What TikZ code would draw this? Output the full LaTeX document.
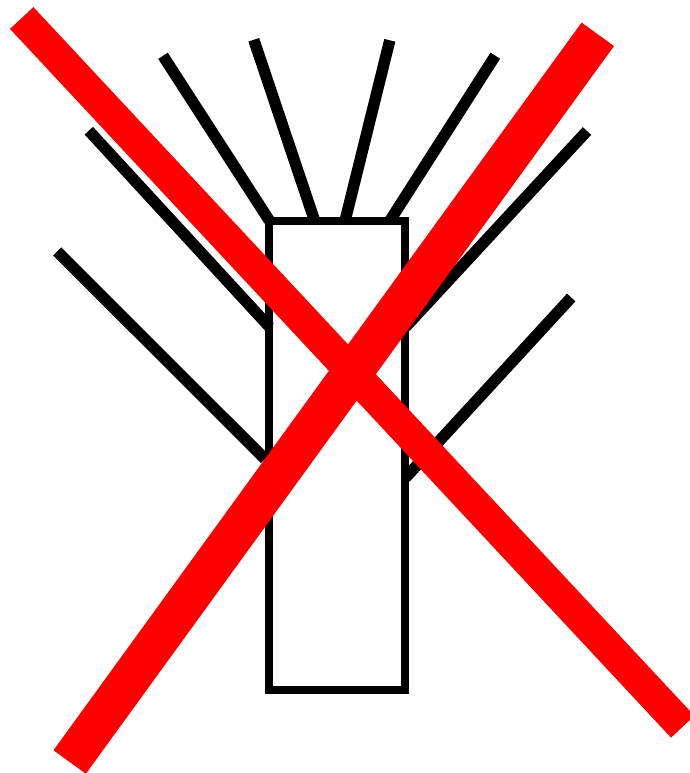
\documentclass[tikz,border=0pt]{standalone}
\begin{document}
\begin{tikzpicture}[x=1pt,y=-1pt,
  blk/.style={draw=black,line width=11.4pt,line cap=butt},
  slashA/.style={draw=red,line width=32pt,line cap=butt},
  slashB/.style={draw=red,line width=40pt,line cap=butt}]
\useasboundingbox (0,0) rectangle (690,773);
\clip (0,0) rectangle (690,773);
\coordinate (a1) at (269.3,220.5); \coordinate (a2) at (163,55.8);
\coordinate (b1) at (314.7,221); \coordinate (b2) at (253.8,39.8);
\coordinate (c1) at (345,221); \coordinate (c2) at (389.8,40.3);
\coordinate (d1) at (389.7,221); \coordinate (d2) at (495.3,55.7);
\coordinate (e1) at (269.5,327); \coordinate (e2) at (88.8,130.7);
\coordinate (f1) at (405.5,327); \coordinate (f2) at (587,131);
\coordinate (g1) at (265,459); \coordinate (g2) at (57.2,251.5);
\coordinate (h1) at (405.5,477.7); \coordinate (h2) at (571.2,297.5);
\foreach \p/\q in {a1/a2,b1/b2,c1/c2,d1/d2,e1/e2,f1/f2,g1/g2,h1/h2}
  \draw[blk] (\p) -- (\q);
\node[draw=black,line width=8pt,minimum width=136.3pt,minimum height=469pt,inner sep=0pt,outer sep=0pt] (box) at (337.15,455.5) {};
\coordinate (s1) at (21.7,18); \coordinate (s2) at (682.7,726.7);
\coordinate (s3) at (597.8,34.3); \coordinate (s4) at (69.7,762);
\draw[slashA] (s1) -- (s2);
\draw[slashB] (s3) -- (s4);
\end{tikzpicture}
\end{document}
